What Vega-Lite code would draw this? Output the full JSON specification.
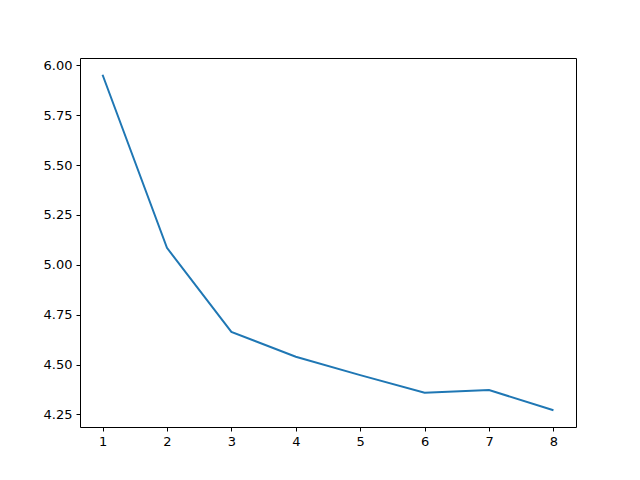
{
  "$schema": "https://vega.github.io/schema/vega-lite/v6.json",
  "autosize": {"type": "none"},
  "padding": {"left": 80, "top": 58, "right": 64, "bottom": 53},
  "width": 496,
  "height": 369,
  "background": "white",
  "data": {
    "values": [
      {"x": 1, "y": 5.953},
      {"x": 2, "y": 5.085},
      {"x": 3, "y": 4.664},
      {"x": 4, "y": 4.539},
      {"x": 5, "y": 4.447},
      {"x": 6, "y": 4.359},
      {"x": 7, "y": 4.372},
      {"x": 8, "y": 4.271}
    ]
  },
  "mark": {"type": "line", "color": "#1f77b4", "strokeWidth": 2, "clip": true},
  "encoding": {
    "x": {
      "field": "x",
      "type": "quantitative",
      "scale": {"domain": [0.65, 8.35], "nice": false, "zero": false},
      "axis": {"values": [1, 2, 3, 4, 5, 6, 7, 8], "format": "d", "title": null}
    },
    "y": {
      "field": "y",
      "type": "quantitative",
      "scale": {"domain": [4.187, 6.037], "nice": false, "zero": false},
      "axis": {"values": [4.25, 4.5, 4.75, 5.0, 5.25, 5.5, 5.75, 6.0], "format": ".2f", "title": null}
    }
  },
  "config": {
    "view": {"stroke": "black", "strokeWidth": 1},
    "axis": {
      "grid": false,
      "domain": false,
      "tickColor": "black",
      "tickSize": 4,
      "tickWidth": 1,
      "labelColor": "black",
      "labelFont": "DejaVu Sans",
      "labelFontSize": 13,
      "labelPadding": 4
    }
  }
}
